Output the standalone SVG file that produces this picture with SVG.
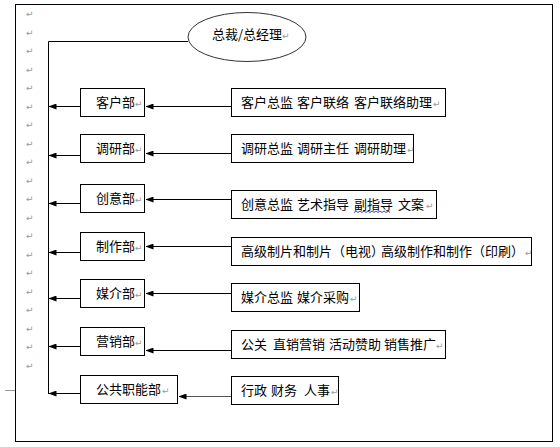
<svg xmlns="http://www.w3.org/2000/svg" width="560" height="447" viewBox="0 0 560 447">
<defs>
<marker id="ah" viewBox="0 0 8 6" refX="7.5" refY="3" markerWidth="8" markerHeight="6" markerUnits="userSpaceOnUse" orient="auto">
<path d="M0,0 L8,3 L0,6 Z" fill="#000"/>
</marker>
<style>
.box{fill:#fff;stroke:#000;stroke-width:1}
.t{font-family:"Noto Sans CJK SC","Liberation Sans",sans-serif;font-size:13px;fill:#000}
.rm{font-family:"DejaVu Sans","Liberation Sans",sans-serif;font-size:9px;fill:#999}
.ln{stroke:#000;stroke-width:1;fill:none}
</style>
</defs>
<rect width="560" height="447" fill="#fff"/>
<rect x="15.5" y="4.5" width="537" height="437" fill="none" stroke="#000" stroke-width="1"/>
<line x1="5" y1="390.5" x2="15" y2="390.5" stroke="#999" stroke-width="1"/>
<g id="returnmarks" class="rm">
<text x="26" y="17">↵</text><text x="26" y="35.5">↵</text><text x="26" y="54">↵</text><text x="26" y="72.5">↵</text>
<text x="26" y="91">↵</text><text x="26" y="109.5">↵</text><text x="26" y="128">↵</text><text x="26" y="146.5">↵</text>
<text x="26" y="165">↵</text><text x="26" y="183.5">↵</text><text x="26" y="202">↵</text><text x="26" y="220.5">↵</text>
<text x="26" y="239">↵</text><text x="26" y="257.5">↵</text><text x="26" y="276">↵</text><text x="26" y="294.5">↵</text>
<text x="26" y="313">↵</text><text x="26" y="331.5">↵</text><text x="26" y="350">↵</text><text x="26" y="368.5">↵</text>
</g>
<g id="connectors" class="ln">
<path d="M188,41.5 H48.5 V394"/>
<line x1="80" y1="106.5" x2="49" y2="106.5" marker-end="url(#ah)"/>
<line x1="80" y1="155.5" x2="49" y2="155.5" marker-end="url(#ah)"/>
<line x1="80" y1="203.5" x2="49" y2="203.5" marker-end="url(#ah)"/>
<line x1="80" y1="252.5" x2="49" y2="252.5" marker-end="url(#ah)"/>
<line x1="80" y1="298.5" x2="49" y2="298.5" marker-end="url(#ah)"/>
<line x1="80" y1="346.5" x2="49" y2="346.5" marker-end="url(#ah)"/>
<line x1="80" y1="393.5" x2="49" y2="393.5" marker-end="url(#ah)"/>
<line x1="231" y1="106.5" x2="146" y2="106.5" marker-end="url(#ah)"/>
<line x1="231" y1="153.5" x2="146" y2="153.5" marker-end="url(#ah)"/>
<line x1="231" y1="199.5" x2="146" y2="199.5" marker-end="url(#ah)"/>
<line x1="231" y1="246.5" x2="146" y2="246.5" marker-end="url(#ah)"/>
<line x1="231" y1="293.5" x2="146" y2="293.5" marker-end="url(#ah)"/>
<line x1="231" y1="350.5" x2="146" y2="350.5" marker-end="url(#ah)"/>
<line x1="231" y1="396.5" x2="179" y2="396.5" marker-end="url(#ah)" stroke="#555"/>
</g>
<g id="ceo">
<ellipse cx="247" cy="37" rx="59" ry="24.5" fill="#fff" stroke="#333" stroke-width="1"/>
<text class="t" x="212" y="39">总裁/总经理</text><text class="rm" x="282" y="39">↵</text>
</g>
<g id="dept-client">
<rect class="box" x="80.5" y="88.5" width="64" height="28"/>
<text class="t" x="96" y="107">客户部</text><text class="rm" x="135" y="107">↵</text>
</g>
<g id="dept-research">
<rect class="box" x="80.5" y="134.5" width="64" height="28"/>
<text class="t" x="96" y="153">调研部</text><text class="rm" x="135" y="153">↵</text>
</g>
<g id="dept-creative">
<rect class="box" x="80.5" y="184.5" width="64" height="28"/>
<text class="t" x="96" y="203">创意部</text><text class="rm" x="135" y="203">↵</text>
</g>
<g id="dept-production">
<rect class="box" x="80.5" y="232.5" width="64" height="28"/>
<text class="t" x="96" y="251">制作部</text><text class="rm" x="135" y="251">↵</text>
</g>
<g id="dept-media">
<rect class="box" x="80.5" y="279.5" width="64" height="28"/>
<text class="t" x="96" y="298">媒介部</text><text class="rm" x="135" y="298">↵</text>
</g>
<g id="dept-marketing">
<rect class="box" x="80.5" y="327.5" width="64" height="28"/>
<text class="t" x="96" y="346">营销部</text><text class="rm" x="135" y="346">↵</text>
</g>
<g id="dept-public">
<rect class="box" x="80.5" y="375.5" width="97" height="28"/>
<text class="t" x="96" y="394">公共职能部</text><text class="rm" x="162" y="394">↵</text>
</g>
<g id="roles-client">
<rect class="box" x="231.5" y="88.5" width="214" height="28"/>
<text class="t" y="107"><tspan x="241">客户总监</tspan><tspan x="297">客户联络</tspan><tspan x="354">客户联络助理</tspan></text><text class="rm" x="433" y="107">↵</text>
</g>
<g id="roles-research">
<rect class="box" x="231.5" y="134.5" width="182" height="28"/>
<text class="t" y="153"><tspan x="241">调研总监</tspan><tspan x="297">调研主任</tspan><tspan x="354">调研助理</tspan></text><text class="rm" x="407" y="153">↵</text>
</g>
<g id="roles-creative">
<rect class="box" x="231.5" y="190.5" width="205" height="28"/>
<text class="t" y="209"><tspan x="241">创意总监</tspan><tspan x="297">艺术指导</tspan><tspan x="354">副指导</tspan><tspan x="398">文案</tspan></text><text class="rm" x="426" y="209">↵</text>
<path d="M354,212.5 l2,-1.5 l2,1.5 l2,-1.5 l2,1.5 l2,-1.5 l2,1.5 l2,-1.5 l2,1.5 l2,-1.5 l2,1.5 l2,-1.5 l2,1.5 l2,-1.5 l2,1.5 l2,-1.5 l2,1.5 l2,-1.5 l2,1.5" fill="none" stroke="#3344dd" stroke-width="1"/>
</g>
<g id="roles-production">
<rect class="box" x="231.5" y="237.5" width="300" height="28"/>
<text class="t" y="256"><tspan x="241">高级制片和制片（电视）</tspan><tspan x="381">高级制作和制作（印刷）</tspan></text><text class="rm" x="525" y="256">↵</text>
</g>
<g id="roles-media">
<rect class="box" x="231.5" y="283.5" width="128" height="28"/>
<text class="t" y="302"><tspan x="241">媒介总监</tspan><tspan x="297">媒介采购</tspan></text><text class="rm" x="350" y="302">↵</text>
</g>
<g id="roles-marketing">
<rect class="box" x="231.5" y="330.5" width="214" height="28"/>
<text class="t" y="349"><tspan x="241">公关</tspan><tspan x="273">直销营销</tspan><tspan x="329">活动赞助</tspan><tspan x="384">销售推广</tspan></text><text class="rm" x="436" y="349">↵</text>
</g>
<g id="roles-public">
<rect class="box" x="231.5" y="376.5" width="107" height="28"/>
<text class="t" y="395"><tspan x="241">行政</tspan><tspan x="271">财务</tspan><tspan x="304">人事</tspan></text><text class="rm" x="331" y="395">↵</text>
</g>
</svg>
